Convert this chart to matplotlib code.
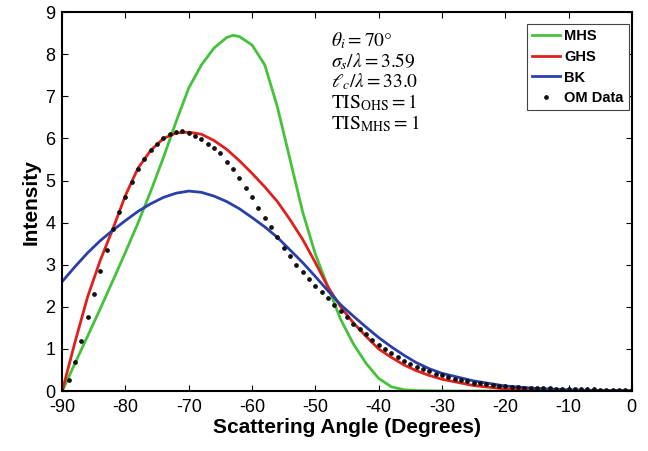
import numpy as np
import matplotlib
matplotlib.use("Agg")
from matplotlib import pyplot as plt

plt.rcParams['font.family'] = ['Liberation Sans', 'DejaVu Sans']
plt.rcParams['mathtext.fontset'] = 'stix'
plt.rcParams['axes.unicode_minus'] = False

# MHS (green)
mhs_x = [-90, -88, -86, -84, -82, -80, -78, -76, -74, -72, -70, -68, -66, -64, -63, -62,
         -60, -58, -56, -54, -52, -50, -48, -46, -44, -42, -40, -38, -36, -34, -30, -20, -10, 0]
mhs_y = [0, 0.65, 1.3, 1.95, 2.62, 3.3, 4.0, 4.75, 5.55, 6.4, 7.2, 7.75, 8.15, 8.4, 8.45, 8.42,
         8.22, 7.75, 6.75, 5.5, 4.25, 3.25, 2.47, 1.7, 1.12, 0.66, 0.3, 0.1, 0.03, 0.01, 0, 0, 0, 0]

# GHS (red)
ghs_x = [-90, -88, -86, -84, -82, -80, -78, -76, -74, -72, -70, -68, -66, -64, -62, -60,
         -58, -56, -54, -52, -50, -48, -46, -44, -42, -40, -38, -36, -34, -32, -30,
         -25, -20, -15, -10, 0]
ghs_y = [0, 1.15, 2.23, 3.1, 3.85, 4.65, 5.3, 5.72, 6.0, 6.13, 6.15, 6.1, 5.95, 5.74, 5.47, 5.17,
         4.85, 4.5, 4.07, 3.6, 3.05, 2.47, 2.0, 1.62, 1.3, 1.0, 0.8, 0.62, 0.48, 0.37, 0.28,
         0.13, 0.05, 0.02, 0.01, 0]

# BK (blue)
bk_x = [-90, -88, -86, -84, -82, -80, -78, -76, -74, -72, -70, -68, -66, -64, -62, -60,
        -58, -56, -54, -52, -50, -48, -46, -44, -42, -40, -38, -36, -34, -32, -30,
        -25, -20, -15, -10, -5, 0]
bk_y = [2.6, 2.95, 3.28, 3.57, 3.82, 4.05, 4.27, 4.45, 4.6, 4.7, 4.75, 4.72, 4.63, 4.5, 4.33, 4.12,
        3.9, 3.65, 3.35, 3.05, 2.72, 2.38, 2.05, 1.78, 1.52, 1.27, 1.05, 0.85, 0.67, 0.53, 0.42,
        0.24, 0.12, 0.06, 0.03, 0.01, 0.01]

# OM data (dots), one per degree from -90 to 0
om_x = list(range(-90, 1))
om_y = [0.0, 0.25, 0.7, 1.2, 1.75, 2.3, 2.85, 3.35, 3.85, 4.25,
        4.62, 4.97, 5.28, 5.52, 5.72, 5.88, 6.0, 6.1, 6.15, 6.17,
        6.12, 6.05, 5.98, 5.88, 5.78, 5.65, 5.45, 5.28, 5.05, 4.83,
        4.6, 4.35, 4.1, 3.9, 3.65, 3.4, 3.2, 3.0, 2.82, 2.65,
        2.5, 2.35, 2.2, 2.05, 1.9, 1.75, 1.6, 1.47, 1.35, 1.22,
        1.1, 1.0, 0.9, 0.8, 0.72, 0.65, 0.58, 0.52, 0.47, 0.41,
        0.37, 0.33, 0.29, 0.26, 0.23, 0.2, 0.18, 0.16, 0.14, 0.12,
        0.11, 0.1, 0.09, 0.08, 0.07, 0.07, 0.06, 0.06, 0.05, 0.05,
        0.05, 0.04, 0.04, 0.04, 0.04, 0.03, 0.03, 0.03, 0.03, 0.03, 0.03]

fig = plt.figure(figsize=(6.48, 4.51), dpi=100)
ax = fig.add_axes([0.096, 0.133, 0.879, 0.84])

ax.plot(mhs_x, mhs_y, color='#44c23a', lw=2, label='MHS')
ax.plot(ghs_x, ghs_y, color='#e0201c', lw=2, label='GHS')
ax.plot(bk_x, bk_y, color='#2b3fa8', lw=2, label='BK')
ax.plot(om_x, om_y, ls='none', marker='o', ms=2.4, color='#111111', label='OM Data')

ax.set_xlim(-90, 0)
ax.set_ylim(0, 9)
ax.set_xticks(np.arange(-90, 1, 10))
ax.set_yticks(np.arange(0, 10, 1))
ax.tick_params(direction='in', top=True, right=True, labelsize=13, length=4)
ax.tick_params(axis='x', pad=6)
ax.tick_params(axis='y', pad=5)
for s in ax.spines.values():
    s.set_linewidth(1.5)

ax.set_xlabel('Scattering Angle (Degrees)', fontsize=15, fontweight='bold', labelpad=1)
ax.set_ylabel('Intensity', fontsize=15, fontweight='bold', labelpad=3)

txt = ('$\\theta_i = 70°$\n$\\sigma_s/\\lambda = 3.59$\n$\\ell_c/\\lambda = 33.0$\n'
       '$\\mathrm{TIS_{OHS}} = 1$\n$\\mathrm{TIS_{MHS}} = 1$')
ax.text(0.472, 0.952, txt, transform=ax.transAxes, fontsize=14, va='top', ha='left',
        linespacing=1.0)

leg = ax.legend(loc='upper right', bbox_to_anchor=(0.995, 0.968), fancybox=False,
                edgecolor='#444444', framealpha=1, handlelength=1.9, handletextpad=0.3,
                borderpad=0.35, labelspacing=0.45, borderaxespad=0,
                prop={'weight': 'bold', 'size': 10.5})
leg.get_frame().set_linewidth(0.8)

plt.savefig('out.png', dpi=100)
